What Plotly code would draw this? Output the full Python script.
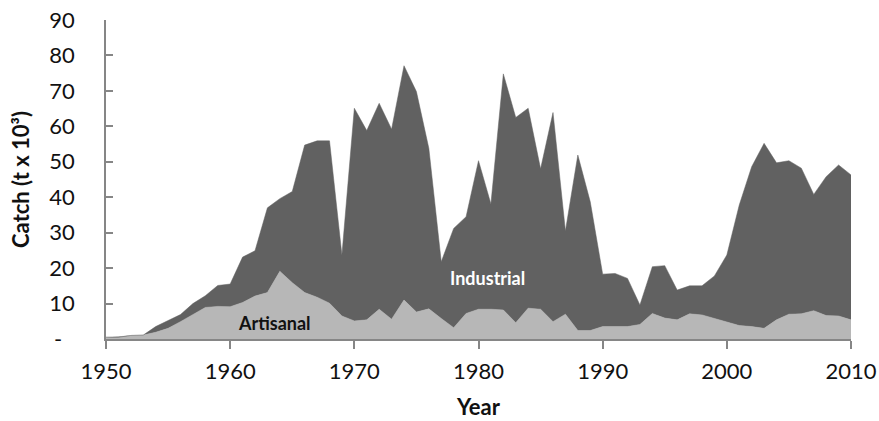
import plotly.graph_objects as go

years = list(range(1950, 2011))

total = [0.5, 0.5, 1.0, 1.1, 3.5, 5.2, 6.9, 10.0, 12.2, 15.1,
         15.5, 23.1, 24.9, 37.0, 39.6, 41.6, 54.7, 55.9, 55.9, 23.7,
         65.1, 58.8, 66.5, 59.2, 77.1, 69.8, 53.8, 21.8, 31.2, 34.5,
         50.3, 38.1, 74.8, 62.5, 65.1, 48.0, 63.9, 30.5, 51.9, 38.7,
         18.3, 18.5, 17.1, 9.6, 20.4, 20.7, 13.8, 15.0, 15.0, 17.8,
         23.7, 37.8, 48.6, 55.2, 49.7, 50.3, 48.2, 40.8, 45.8, 49.1,
         46.3]

artisanal = [0.5, 0.6, 1.0, 1.1, 1.9, 3.0, 4.9, 6.9, 8.9, 9.2,
             9.1, 10.3, 12.1, 13.1, 19.1, 15.9, 13.1, 11.8, 10.1, 6.5,
             5.1, 5.4, 8.4, 5.6, 11.0, 7.6, 8.5, 5.8, 3.2, 7.2,
             8.4, 8.4, 8.2, 4.6, 8.7, 8.4, 4.9, 7.0, 2.4, 2.4,
             3.5, 3.5, 3.5, 4.1, 7.2, 5.9, 5.4, 7.1, 6.8, 5.8,
             4.7, 3.8, 3.5, 3.0, 5.4, 7.0, 7.1, 8.0, 6.6, 6.5,
             5.4]

industrial = [round(t - a, 2) for t, a in zip(total, artisanal)]

y_ticks = [0, 10, 20, 30, 40, 50, 60, 70, 80, 90]
y_ticktext = ["-\u2007", "10", "20", "30", "40", "50", "60", "70", "80", "90"]
x_ticks = [1950, 1960, 1970, 1980, 1990, 2000, 2010]

FONT = "Lato"
AXIS = "#868686"

fig = go.Figure()
fig.add_trace(go.Scatter(x=years, y=artisanal, name="Artisanal", stackgroup="one",
                         mode="lines", line=dict(width=0.5, color="#b7b7b7"),
                         fillcolor="#b7b7b7"))
fig.add_trace(go.Scatter(x=years, y=industrial, name="Industrial", stackgroup="one",
                         mode="lines", line=dict(width=0.5, color="#616161"),
                         fillcolor="#616161"))

fig.add_annotation(x=1963.6, y=4.5, text="<b>Artisanal</b>", showarrow=False,
                   font=dict(family=FONT, size=18, color="#111111"))
fig.add_annotation(x=1980.75, y=17.2, text="<b>Industrial</b>", showarrow=False,
                   font=dict(family=FONT, size=18, color="#ffffff"))

fig.update_layout(
    width=879, height=421,
    margin=dict(l=106, r=28, t=20, b=82),
    paper_bgcolor="white", plot_bgcolor="white",
    showlegend=False,
    font=dict(family=FONT, size=22, color="#111111"),
    xaxis=dict(range=[1950, 2010], tickvals=x_ticks, showgrid=False, zeroline=False,
               automargin=False, ticklabeloverflow="allow",
               showline=True, linecolor=AXIS, linewidth=1.5,
               ticks="outside", ticklen=8, tickcolor=AXIS, tickwidth=1.5,
               ticklabelstandoff=4,
               tickfont=dict(family=FONT, size=22, color="#111111"),
               title=dict(text="<b>Year</b>", font=dict(family=FONT, size=22), standoff=16)),
    yaxis=dict(range=[0, 90], tickvals=y_ticks, ticktext=y_ticktext, showgrid=False,
               automargin=False, ticklabeloverflow="allow",
               zeroline=False, showline=True, linecolor=AXIS, linewidth=1.5,
               ticks="inside", ticklen=7, tickcolor=AXIS, tickwidth=1.5,
               ticklabelstandoff=25,
               tickfont=dict(family=FONT, size=22, color="#111111"),
               title=dict(text="<b>Catch (t x 10³)</b>", font=dict(family=FONT, size=22),
                          standoff=14)),
)

fig.write_html("out.html",
               config={"displayModeBar": False},
               post_script="document.body.style.margin='0';document.body.style.overflow='hidden';")
